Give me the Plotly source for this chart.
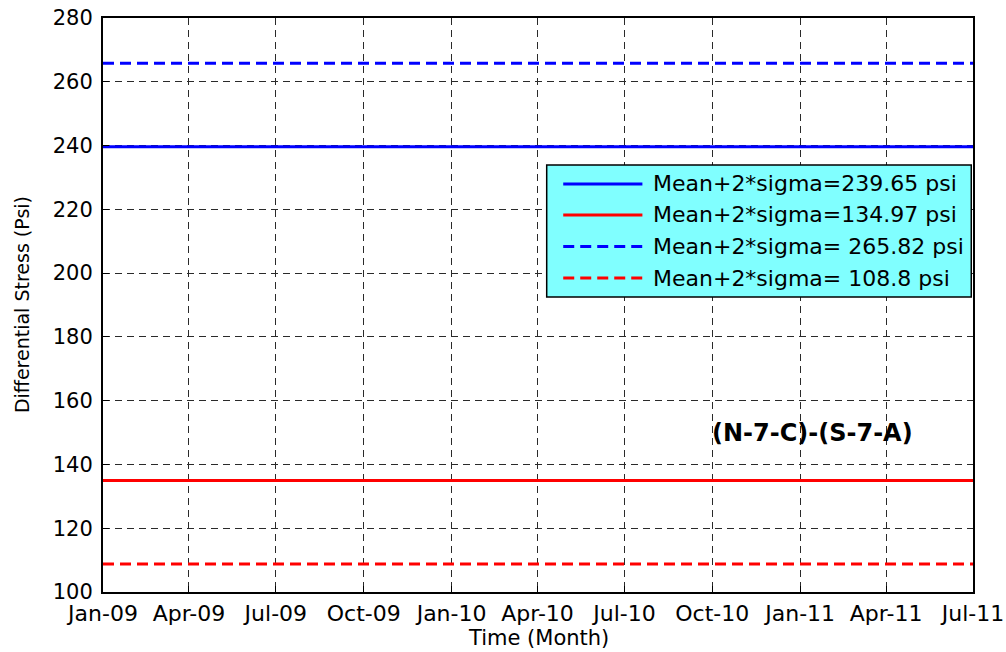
import plotly.graph_objects as go

# time span and threshold levels (psi)
DATES = ["2009-01-01", "2011-07-01"]
LEVELS = [239.65, 134.97, 265.82, 108.8]
LABELS = [
    "Mean+2*sigma=239.65 psi",
    "Mean+2*sigma=134.97 psi",
    "Mean+2*sigma= 265.82 psi",
    "Mean+2*sigma= 108.8 psi",
]
COLORS = ["#0000ff", "#ff0000", "#0000ff", "#ff0000"]
DASHES = ["solid", "solid", "11px,6px", "11px,6px"]
TICK_DATES = ["2009-01-01", "2009-04-01", "2009-07-01", "2009-10-01", "2010-01-01",
              "2010-04-01", "2010-07-01", "2010-10-01", "2011-01-01", "2011-04-01",
              "2011-07-01"]
TICK_TEXT = ["Jan-09", "Apr-09", "Jul-09", "Oct-09", "Jan-10", "Apr-10",
             "Jul-10", "Oct-10", "Jan-11", "Apr-11", "Jul-11"]
Y_TICKS = [100, 120, 140, 160, 180, 200, 220, 240, 260, 280]

FONT = "DejaVu Sans, Arial, sans-serif"

fig = go.Figure()
for level, label, color, dash in zip(LEVELS, LABELS, COLORS, DASHES):
    fig.add_trace(
        go.Scatter(
            x=DATES,
            y=[level, level],
            mode="lines",
            name=label,
            line=dict(color=color, width=3, dash=dash),
            showlegend=False,
        )
    )

# hand-drawn legend box to match the MATLAB look
lx0, lx1, ly0, ly1 = 0.510, 0.998, 0.514, 0.744
fig.add_shape(type="rect", xref="paper", yref="paper", x0=lx0, x1=lx1, y0=ly0, y1=ly1,
              fillcolor="#80ffff", line=dict(color="black", width=1.5), layer="above")
row_y = [0.711, 0.657, 0.602, 0.547]
for yc, label, color, dash in zip(row_y, LABELS, COLORS, DASHES):
    fig.add_shape(type="line", xref="paper", yref="paper", x0=lx0 + 0.019, x1=lx0 + 0.110,
                  y0=yc, y1=yc, line=dict(color=color, width=3, dash=dash), layer="above")
    fig.add_annotation(xref="paper", yref="paper", x=lx0 + 0.120, y=yc, text=label,
                       showarrow=False, xanchor="left", yanchor="middle",
                       font=dict(size=22, color="black", family=FONT))

fig.add_annotation(xref="paper", yref="paper", x=0.815, y=0.277, text="<b>(N-7-C)-(S-7-A)</b>",
                   showarrow=False, xanchor="center", yanchor="middle",
                   font=dict(size=24, color="black", family=FONT))

# axis titles as annotations so they sit where the original puts them
fig.add_annotation(xref="paper", yref="paper", x=-0.093, y=0.5, text="Differential Stress (Psi)",
                   textangle=-90, showarrow=False, xanchor="center", yanchor="middle",
                   font=dict(size=19, color="black", family=FONT))
fig.add_annotation(xref="paper", yref="paper", x=0.5, y=-0.080, text="Time (Month)",
                   showarrow=False, xanchor="center", yanchor="middle",
                   font=dict(size=21, color="black", family=FONT))

grid = dict(showgrid=True, gridcolor="#2a2a2a", gridwidth=1, griddash="7px,5px",
            showline=True, linecolor="black", linewidth=2, mirror=True,
            ticks="inside", ticklen=6, tickcolor="black", zeroline=False,
            automargin=False, ticklabeloverflow="allow")

fig.update_xaxes(
    type="date",
    range=DATES,
    tickvals=TICK_DATES,
    ticktext=TICK_TEXT,
    ticklabelstandoff=1,
    tickfont=dict(size=22, color="black", family=FONT),
    **grid,
)
fig.update_yaxes(
    range=[100, 280],
    tickvals=Y_TICKS,
    ticklabelstandoff=4,
    tickfont=dict(size=21, color="black", family=FONT),
    **grid,
)

fig.update_layout(
    width=1006,
    height=652,
    margin=dict(l=103, r=33, t=18, b=60),
    paper_bgcolor="white",
    plot_bgcolor="white",
    font=dict(family=FONT, color="black"),
)

# drop the default 8px body margin so the figure fills the window exactly
fig.write_html(
    "out.html",
    config={"displayModeBar": False},
    post_script="document.body.style.margin='0'; document.body.style.overflow='hidden';",
)
